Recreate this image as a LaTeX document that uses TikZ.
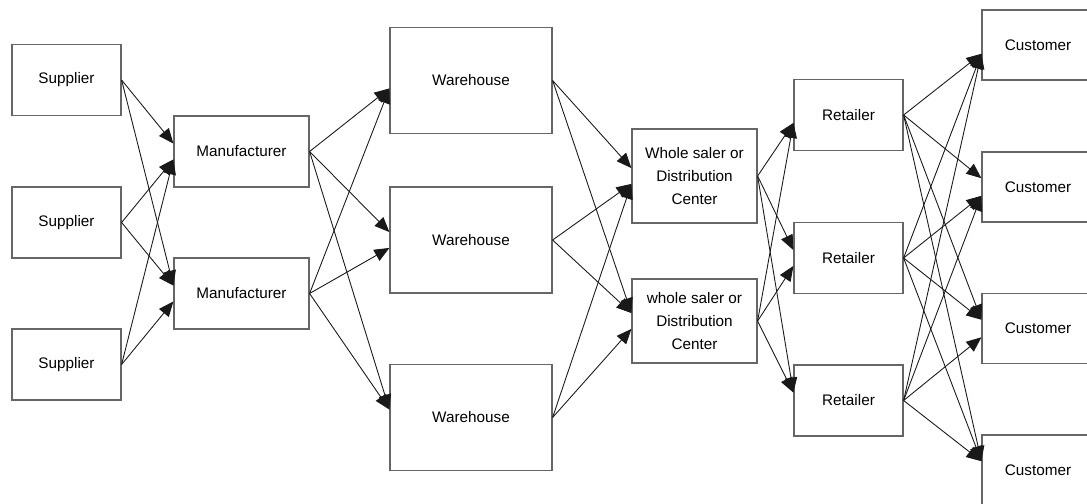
\documentclass[tikz,border=0pt]{standalone}
\usepackage{fontspec}
\setmainfont{Liberation Sans}
\usetikzlibrary{arrows.meta}

\begin{document}
\begin{tikzpicture}[x=0.02cm, y=-0.02cm, >={Triangle[length=3mm, width=2.5mm]},
  box/.style={draw=black!60, line width=0.7pt, fill=white, rectangle, align=center,
    inner sep=0pt, font=\fontsize{8.7}{13.3}\selectfont},
  supbox/.style={box, minimum width=2.18cm, minimum height=1.42cm},
  manbox/.style={box, minimum width=2.7cm, minimum height=1.42cm},
  whbox/.style={box, minimum width=3.24cm, minimum height=2.12cm},
  distbox/.style={box, minimum width=2.5cm},
  retbox/.style={box, minimum width=2.18cm, minimum height=1.42cm},
  custbox/.style={box, minimum width=2.24cm, minimum height=1.4cm},
  flow/.style={->, draw=black!90, line width=0.5pt}]
\useasboundingbox (0,0) rectangle (1087,503);

% suppliers
\node[supbox] (sup1) at (66.5,80) {Supplier};
\node[supbox] (sup2) at (66.5,222.5) {Supplier};
\node[supbox] (sup3) at (66.5,364.5) {Supplier};

% manufacturers
\node[manbox] (man1) at (241.5,151.5) {Manufacturer};
\node[manbox] (man2) at (241.5,293.5) {Manufacturer};

% warehouses
\node[whbox] (wh1) at (471,80.5) {Warehouse};
\node[whbox] (wh2) at (471,240) {Warehouse};
\node[whbox] (wh3) at (471,417.5) {Warehouse};

% distribution
\node[distbox, minimum height=1.88cm] (dist1) at (694.5,176) {Whole saler or\\Distribution\\Center};
\node[distbox, minimum height=1.68cm] (dist2) at (694.5,321) {whole saler or\\Distribution\\Center};

% retailers
\node[retbox] (ret1) at (848.5,115) {Retailer};
\node[retbox] (ret2) at (848.5,258) {Retailer};
\node[retbox] (ret3) at (848.5,400.5) {Retailer};

% customers
\node[custbox] (cust1) at (1038,45) {Customer};
\node[custbox] (cust2) at (1038,187) {Customer};
\node[custbox] (cust3) at (1038,328.5) {Customer};
\node[custbox] (cust4) at (1038,470) {Customer};

\foreach \src/\dst/\off in {sup1/man1/4.5, sup1/man2/4.5, sup2/man1/-4.5, sup2/man2/4.5,
    sup3/man1/-4.5, sup3/man2/-4.5,
    man1/wh1/-4.5, man1/wh2/4.5, man1/wh3/4.5, man2/wh1/-4.5, man2/wh2/-4.5, man2/wh3/4.5,
    wh1/dist1/4.5, wh1/dist2/4.5, wh2/dist1/-4.5, wh2/dist2/4.5, wh3/dist1/-4.5, wh3/dist2/-4.5,
    dist1/ret1/-4.5, dist1/ret2/4.5, dist1/ret3/4.5, dist2/ret1/-4.5, dist2/ret2/-4.5, dist2/ret3/4.5}
{
  \draw[flow] (\src.east) -- ([yshift=\off pt]\dst.west);
}

\foreach \src/\dst/\off in {ret1/cust1/-5, ret1/cust2/5, ret1/cust3/5, ret1/cust4/5,
    ret2/cust1/-5, ret2/cust2/-5, ret2/cust3/5, ret2/cust4/5,
    ret3/cust1/-5, ret3/cust2/-5, ret3/cust3/-5, ret3/cust4/5}
{
  \draw[flow] (\src.east) -- ([yshift=\off pt]\dst.west);
}
\end{tikzpicture}
\end{document}
